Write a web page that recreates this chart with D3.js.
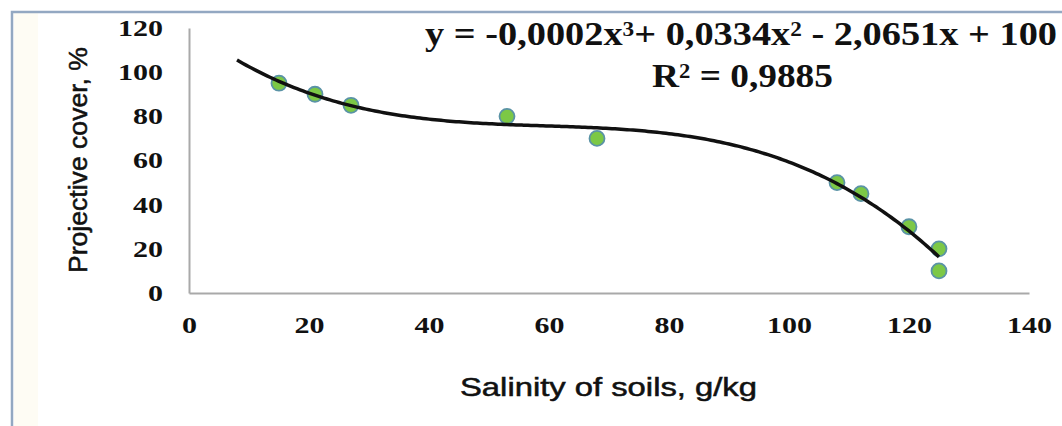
<!DOCTYPE html>
<html>
<script src="https://d3js.org/d3.v7.min.js"></script>
<style>
body{
    margin:0;
    background:#fff;
}
svg text{
    fill:#111;
}
</style>
<body>
<div class="chart"></div>
</body>
<script>
const width = 1062;
const height = 426;

// measured data points (salinity g/kg vs projective cover %)
const salinity = [15, 21, 27, 53, 68, 108, 112, 120, 125, 125];
const cover = [95, 90, 85, 80, 70, 50, 45, 30, 20, 10];

const xTicks = [0, 20, 40, 60, 80, 100, 120, 140];
const yTicks = [0, 20, 40, 60, 80, 100, 120];

const trendFrom = 8;
const trendTo = 125;

const equationParts = [
    {t: 'y = -0,0002x'}, {t: '3', sup: true}, {t: '+ 0,0334x'}, {t: '2', sup: true},
    {t: ' - 2,0651x + 100'}
];
const rSquaredParts = [{t: 'R'}, {t: '2', sup: true}, {t: ' = 0,9885'}];

const xTitle = 'Salinity of soils, g/kg';
const yTitle = 'Projective cover, %';

// least squares cubic, same as the excel trendline
const polyFit = (xs, ys, degree) => {
    const n = degree + 1;
    const m = d3.range(n).map(i => d3.range(n + 1).map(j => {
        if (j == n) return d3.sum(xs, (x, k) => ys[k] * Math.pow(x, i));
        return d3.sum(xs, x => Math.pow(x, i + j));
    }));
    for (let c = 0; c < n; c++) {
        let p = c;
        for (let r = c + 1; r < n; r++) if (Math.abs(m[r][c]) > Math.abs(m[p][c])) p = r;
        [m[c], m[p]] = [m[p], m[c]];
        for (let r = 0; r < n; r++) {
            if (r == c) continue;
            const f = m[r][c] / m[c][c];
            for (let k = c; k <= n; k++) m[r][k] -= f * m[c][k];
        }
    }
    return d3.range(n).map(i => m[i][n] / m[i][i]);
};

const coef = polyFit(salinity, cover, 3);
const trend = x => coef.reduce((acc, c, i) => acc + c * Math.pow(x, i), 0);

const xScale = d3.scaleLinear().domain([0, 140]).range([189, 1029]);
const yScale = d3.scaleLinear().domain([0, 120]).range([293, 28]);

const svg = d3.select('.chart')
    .append('svg')
        .attr('width', width)
        .attr('height', height);

svg.append('rect')
    .attr('width', width)
    .attr('height', height)
    .attr('fill', '#fff');

// frame of the figure (only top and left show)
svg.append('rect')
    .attr('x', 14).attr('y', 13)
    .attr('width', 24).attr('height', height - 13)
    .attr('fill', '#fefcf4');
svg.append('path')
    .attr('d', `M12,${height} L12,12 L${width},12`)
    .attr('fill', 'none')
    .attr('stroke', '#93a8c2')
    .attr('stroke-width', 2.5);

const numFont = g => g.selectAll('text')
    .attr('font-family', '"Liberation Serif", serif')
    .attr('font-weight', 'bold')
    .attr('font-size', 23)
    .attr('fill', '#222')
    .attr('lengthAdjust', 'spacingAndGlyphs')
    .attr('textLength', d => String(d).length * 15);

svg.append('g')
    .attr('transform', `translate(0,${yScale(0)})`)
    .call(d3.axisBottom(xScale).tickValues(xTicks).tickSize(0).tickSizeOuter(0).tickPadding(24))
    .call(g => g.select('.domain').attr('stroke', '#a9a9a9').attr('stroke-width', 2))
    .call(numFont);

svg.append('g')
    .attr('transform', `translate(${xScale(0)},0)`)
    .call(d3.axisLeft(yScale).tickValues(yTicks).tickSize(0).tickSizeOuter(0).tickPadding(26))
    .call(g => g.select('.domain').attr('stroke', '#a9a9a9').attr('stroke-width', 2))
    .call(numFont);

// points
svg.append('g')
    .selectAll('circle')
    .data(salinity.map((s, i) => ({x: s, y: cover[i]})))
    .enter()
    .append('circle')
        .attr('cx', d => xScale(d.x))
        .attr('cy', d => yScale(d.y))
        .attr('r', 7.5)
        .attr('fill', '#7cc846')
        .attr('stroke', '#5a93a6')
        .attr('stroke-width', 1.8);

// trend line on top
const line = d3.line()
    .curve(d3.curveBasis)
    .x(d => xScale(d))
    .y(d => yScale(trend(d)));

svg.append('path')
    .attr('d', line(d3.range(trendFrom, trendTo + 0.01, 0.5)))
    .attr('fill', 'none')
    .attr('stroke', '#111')
    .attr('stroke-width', 3.5);

const richText = (parts, x, y, len) => {
    const t = svg.append('text')
        .attr('x', x)
        .attr('y', y)
        .attr('font-family', '"Liberation Serif", serif')
        .attr('font-weight', 'bold')
        .attr('font-size', 33)
        .attr('textLength', len)
        .attr('lengthAdjust', 'spacingAndGlyphs');
    parts.forEach(p => {
        t.append('tspan')
            .attr('font-size', p.sup ? 20 : 33)
            .attr('baseline-shift', p.sup ? '45%' : null)
            .text(p.t);
    });
};
richText(equationParts, 425, 45, 632);
richText(rSquaredParts, 652, 87, 181);

svg.append('text')
    .attr('x', 460)
    .attr('y', 396)
    .attr('font-family', '"Liberation Sans", Arial, sans-serif')
    .attr('font-size', 25)
    .attr('stroke', '#111')
    .attr('stroke-width', 0.5)
    .attr('textLength', 297)
    .attr('lengthAdjust', 'spacingAndGlyphs')
    .text(xTitle);

svg.append('text')
    .attr('transform', 'translate(87,160) rotate(-90)')
    .attr('text-anchor', 'middle')
    .attr('font-family', '"Liberation Sans", Arial, sans-serif')
    .attr('font-size', 25)
    .attr('stroke', '#111')
    .attr('stroke-width', 0.5)
    .attr('textLength', 226)
    .attr('lengthAdjust', 'spacingAndGlyphs')
    .text(yTitle);
</script>
</html>
